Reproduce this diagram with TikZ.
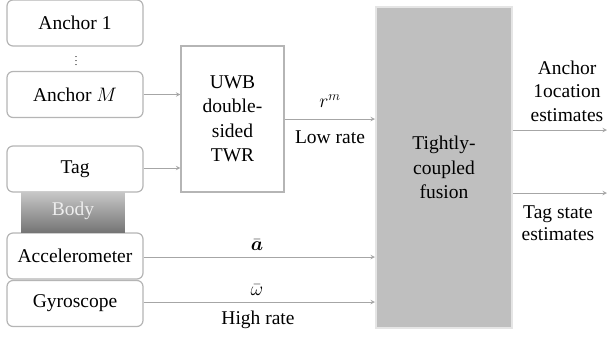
\documentclass[tikz,border=0pt]{standalone}
\usepackage{fix-cm}
\usepackage{fontspec}
\usepackage{amsmath,bm}
\setmainfont{Liberation Serif}
\newfontfamily\diagfont{Liberation Serif}
\begin{document}
\begin{tikzpicture}[x=1pt,y=-1pt,
  txt/.style={font=\diagfont\fontsize{19.5}{24.5}\selectfont},
  inbox/.style={txt,draw=black!29,line width=1.2pt,rounded corners=6pt,fill=white,
    minimum width=136pt,minimum height=46pt,inner sep=0pt},
  sqbox/.style={txt,draw=black!29,line width=1.2pt,fill=white,inner sep=0pt},
  flow/.style={draw=black!35,line width=1pt,-stealth},
  lbl/.style={txt,inner sep=0pt,align=center}]
\useasboundingbox (0,0) rectangle (607,338);

% sensor boxes
\node[inbox] (a1) at (75,23) {Anchor 1};
\node[inner sep=0pt,font=\fontsize{10}{10}\selectfont] (dots) at (76,58) {$\vdots$};
\node[inbox] (aM) at (75,94.5) {Anchor $M$};
\node[inbox] (tag) at (75,169) {Tag};
\node[inbox] (acc) at (75,256) {Accelerometer};
\node[inbox] (gyr) at (75,303.5) {Gyroscope};

% body block between tag and IMU: vertical grey gradient built from thin bands
\foreach \k in {0,...,40} {
  \pgfmathsetmacro{\shadeval}{22+0.8*\k}
  \fill[black!\shadeval] (21,192+\k) rectangle (125,193.2+\k);
}
\node[lbl,text=white!93!black] (body) at (73,211) {Body};

% ranging block
\node[sqbox,minimum width=103pt,minimum height=146pt,align=center] (uwb) at (232.5,119)
  {UWB\\double-\\sided\\TWR};

% fusion block
\node[txt,draw=black!10,line width=2pt,fill=black!25,minimum width=136pt,minimum height=321pt,
  inner sep=0pt,align=center] (fus) at (444,167.5) {Tightly-\\coupled\\fusion};

% output end points
\coordinate (o1) at (607,130);
\coordinate (o2) at (607,193);

% connectors
\draw[flow] (aM.east) -- (aM.east -| uwb.west);
\draw[flow] (tag.east |- 0,168) -- (uwb.west |- 0,168);
\draw[flow] (uwb.east |- 0,119) -- (fus.west |- 0,119);
\draw[flow] (acc.east |- 0,257) -- (fus.west |- 0,257);
\draw[flow] (gyr.east |- 0,302) -- (fus.west |- 0,302);
\draw[flow] (fus.east |- o1) -- (o1);
\draw[flow] (fus.east |- o2) -- (o2);

% connector labels
\node[lbl] (rm) at (330,101) {$r^{m}$};
\node[lbl] (low) at (330,137) {Low rate};
\node[lbl] (abar) at (257,245) {$\bar{\bm{a}}$};
\node[lbl] (wbar) at (257,290) {$\bar{\omega}$};
\node[lbl] (high) at (258,320) {High rate};
\node[lbl,font=\diagfont\fontsize{19.5}{23.5}\selectfont] (out1) at (567,91) {Anchor\\1ocation\\estimates};
\node[lbl,font=\diagfont\fontsize{19.5}{21.5}\selectfont] (out2) at (558,223) {Tag state\\estimates};
\end{tikzpicture}
\end{document}
